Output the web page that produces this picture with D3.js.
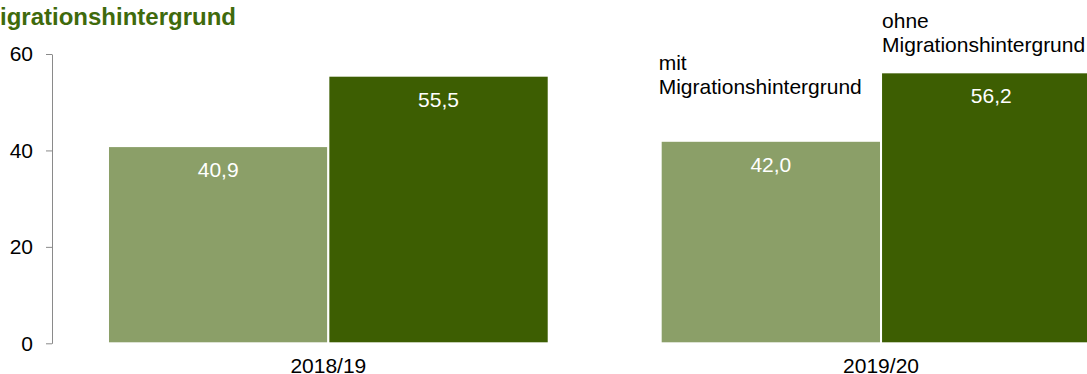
<html>
  <head>
    <script src="https://d3js.org/d3.v7.min.js"></script>
    <style>
      body { margin: 0; background: #fff; overflow: hidden; }
      text { font-family: "Liberation Sans", Arial, sans-serif; }
    </style>
  </head>
  <body>
    <script>
      // data
      var years = ["2018/19", "2019/20"];
      var groups = ["mit", "ohne"];
      var groupLabels = [["mit", "Migrationshintergrund"], ["ohne", "Migrationshintergrund"]];
      var mitValues = [40.9, 42.0];
      var ohneValues = [55.5, 56.2];
      var yTicks = [0, 20, 40, 60];
      var colors = ["#8b9f68", "#3d5e02"];

      var width = 1087, height = 374;
      var svg = d3.select("body").append("svg")
          .attr("width", width)
          .attr("height", height);

      // title (second line only, first one is cut off)
      svg.append("text")
          .attr("x", -20)
          .attr("y", 25)
          .attr("fill", "#3f6a0c")
          .style("font-weight", "bold")
          .style("font-size", "24px")
          .text("Migrationshintergrund");

      var y = d3.scaleLinear().domain([0, 60]).range([343.3, 54]);

      var x0 = d3.scaleBand()
          .domain(years)
          .range([52, 52 + 2 * 552.7])
          .paddingInner(0.2026)
          .paddingOuter(0.1013);

      var x1 = d3.scaleBand()
          .domain(groups)
          .range([0, x0.bandwidth()]);

      var rows = years.map(function (yr, i) {
          return { year: yr, values: [
              { key: "mit", value: mitValues[i] },
              { key: "ohne", value: ohneValues[i] }
          ] };
      });

      // axis
      var axis = svg.append("g")
          .attr("transform", "translate(52,0)")
          .call(d3.axisLeft(y).tickValues(yTicks).tickSize(6).tickSizeOuter(0).tickPadding(13));
      axis.select(".domain").attr("stroke", "#8a8a8a");
      axis.selectAll(".tick line").attr("stroke", "#8a8a8a");
      axis.selectAll(".tick text")
          .attr("fill", "#000")
          .style("font-size", "21px")
          .style("font-family", "Liberation Sans, Arial, sans-serif");

      var grp = svg.append("g").selectAll("g")
          .data(rows)
          .enter().append("g")
          .attr("transform", function (d) { return "translate(" + x0(d.year) + ",0)"; });

      grp.selectAll("rect")
          .data(function (d) { return d.values; })
          .enter().append("rect")
          .attr("x", function (d) { return x1(d.key); })
          .attr("y", function (d) { return y(d.value); })
          .attr("width", x1.bandwidth())
          .attr("height", function (d) { return y(0) - y(d.value); })
          .attr("fill", function (d, i) { return colors[i]; })
          .attr("stroke", "#fff")
          .attr("stroke-width", 2);

      grp.selectAll("text.val")
          .data(function (d) { return d.values; })
          .enter().append("text")
          .attr("class", "val")
          .attr("x", function (d) { return x1(d.key) + x1.bandwidth() / 2; })
          .attr("y", function (d) { return y(d.value) + 31; })
          .attr("text-anchor", "middle")
          .attr("fill", "#fff")
          .style("font-size", "21px")
          .text(function (d) { return d3.format(".1f")(d.value).replace(".", ","); });

      // category labels
      svg.selectAll("text.cat")
          .data(years)
          .enter().append("text")
          .attr("class", "cat")
          .attr("x", function (d) { return x0(d) + x0.bandwidth() / 2; })
          .attr("y", 373)
          .attr("text-anchor", "middle")
          .style("font-size", "21px")
          .text(function (d) { return d; });

      // series labels above the second group
      var last = rows[1];
      var labelOffsets = [47, 20];
      last.values.forEach(function (d, i) {
          var lx = x0(last.year) + x1(d.key) + (i === 0 ? -2 : 1);
          var t = svg.append("text")
              .attr("x", lx)
              .attr("y", y(d.value) - labelOffsets[i] - 24)
              .style("font-size", "21px");
          groupLabels[i].forEach(function (line, j) {
              t.append("tspan")
                  .attr("x", lx)
                  .attr("dy", j === 0 ? 0 : 24)
                  .text(line);
          });
      });
    </script>
  </body>
</html>
